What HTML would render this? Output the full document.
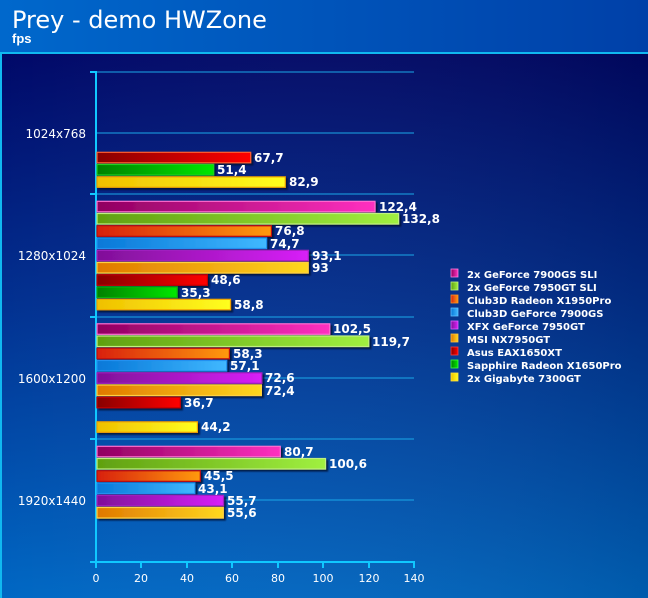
<!DOCTYPE html>
<html><head><meta charset="utf-8"><style>
html,body{margin:0;padding:0;width:648px;height:598px;overflow:hidden;background:#0050b0}
svg{display:block}
text{font-family:"DejaVu Sans","Liberation Sans",sans-serif;fill:#fff}
.v{font-family:"Liberation Sans",sans-serif;font-weight:bold;font-size:12px}
.c{font-size:12px}
.l{font-size:10px;font-weight:bold}
.t{font-size:11px}
</style></head><body>
<svg width="648" height="598" viewBox="0 0 648 598" xmlns="http://www.w3.org/2000/svg">
<defs>
<linearGradient id="hdr" x1="0" x2="1"><stop offset="0" stop-color="#0068cc"/><stop offset="1" stop-color="#0040a8"/></linearGradient>
<linearGradient id="bg" x1="0" y1="0" x2="0" y2="1"><stop offset="0" stop-color="#000868"/><stop offset="0.45" stop-color="#023090"/><stop offset="1" stop-color="#0068c4"/></linearGradient>
<linearGradient id="bg2" x1="0" x2="1"><stop offset="0" stop-color="#fff" stop-opacity="0"/><stop offset="1" stop-color="#000" stop-opacity="0.12"/></linearGradient>
<linearGradient id="pk" x1="0" x2="1"><stop offset="0" stop-color="#900060"/><stop offset="1" stop-color="#ff30c0"/></linearGradient>
<linearGradient id="gl" x1="0" x2="1"><stop offset="0" stop-color="#60a010"/><stop offset="1" stop-color="#a0f040"/></linearGradient>
<linearGradient id="or" x1="0" x2="1"><stop offset="0" stop-color="#d82010"/><stop offset="1" stop-color="#ff9a10"/></linearGradient>
<linearGradient id="bl" x1="0" x2="1"><stop offset="0" stop-color="#0878d8"/><stop offset="1" stop-color="#40b8ff"/></linearGradient>
<linearGradient id="pu" x1="0" x2="1"><stop offset="0" stop-color="#801098"/><stop offset="1" stop-color="#d820f8"/></linearGradient>
<linearGradient id="go" x1="0" x2="1"><stop offset="0" stop-color="#e07800"/><stop offset="1" stop-color="#ffd820"/></linearGradient>
<linearGradient id="rd" x1="0" x2="1"><stop offset="0" stop-color="#880000"/><stop offset="1" stop-color="#ff0000"/></linearGradient>
<linearGradient id="gr" x1="0" x2="1"><stop offset="0" stop-color="#008000"/><stop offset="1" stop-color="#00e800"/></linearGradient>
<linearGradient id="ye" x1="0" x2="1"><stop offset="0" stop-color="#f0c000"/><stop offset="1" stop-color="#ffff20"/></linearGradient>
<filter id="sh" x="-5%" y="-30%" width="115%" height="180%"><feDropShadow dx="2" dy="2" stdDeviation="0.8" flood-color="#000830" flood-opacity="0.8"/></filter>
</defs>
<rect width="648" height="598" fill="url(#hdr)"/>
<rect x="0" y="53" width="648" height="545" fill="url(#bg)"/>
<rect x="0" y="53" width="648" height="545" fill="url(#bg2)"/>
<line x1="0" y1="53" x2="648" y2="53" stroke="#10b8f0" stroke-width="2"/>
<line x1="1" y1="53" x2="1" y2="598" stroke="#10b8f0" stroke-width="2"/>
<text x="12" y="28" style="font-size:24px">Prey - demo HWZone</text>
<text x="12" y="43" style="font-size:13px;font-weight:bold;font-family:'Liberation Sans',sans-serif">fps</text>
<g stroke="#1aa8e8" stroke-width="1">
<line x1="96" y1="72" x2="414" y2="72"/><line x1="96" y1="133" x2="414" y2="133"/>
<line x1="96" y1="194" x2="414" y2="194"/><line x1="96" y1="255" x2="414" y2="255"/>
<line x1="96" y1="317" x2="414" y2="317"/><line x1="96" y1="378" x2="414" y2="378"/>
<line x1="96" y1="439" x2="414" y2="439"/><line x1="96" y1="500" x2="414" y2="500"/>
</g>
<g stroke="#10c8ff" stroke-width="2">
<line x1="96" y1="71" x2="96" y2="563"/>
<line x1="90" y1="562" x2="415" y2="562"/>
<line x1="90" y1="72" x2="96" y2="72"/><line x1="90" y1="194" x2="96" y2="194"/>
<line x1="90" y1="317" x2="96" y2="317"/><line x1="90" y1="439" x2="96" y2="439"/>
<line x1="96" y1="562" x2="96" y2="568"/><line x1="141" y1="562" x2="141" y2="568"/>
<line x1="187" y1="562" x2="187" y2="568"/><line x1="232" y1="562" x2="232" y2="568"/>
<line x1="278" y1="562" x2="278" y2="568"/><line x1="323" y1="562" x2="323" y2="568"/>
<line x1="369" y1="562" x2="369" y2="568"/><line x1="414" y1="562" x2="414" y2="568"/>
</g>
<g class="t" text-anchor="middle">
<text x="96" y="582">0</text><text x="141" y="582">20</text><text x="187" y="582">40</text><text x="232" y="582">60</text>
<text x="278" y="582">80</text><text x="323" y="582">100</text><text x="369" y="582">120</text><text x="414" y="582">140</text>
</g>
<g class="c" text-anchor="end">
<text x="86" y="138">1024x768</text><text x="86" y="260">1280x1024</text>
<text x="86" y="383">1600x1200</text><text x="86" y="505">1920x1440</text>
</g>
<g stroke-width="1.2" filter="url(#sh)">
<rect x="97" y="152.3" width="153.7" height="10.5" fill="url(#rd)" stroke="#ff6030"/>
<rect x="97" y="164.5" width="116.7" height="10.5" fill="url(#gr)" stroke="#20d020"/>
<rect x="97" y="176.8" width="188.3" height="10.5" fill="url(#ye)" stroke="#e8a000"/>
<rect x="97" y="201.3" width="278" height="10.5" fill="url(#pk)" stroke="#ff70d0"/>
<rect x="97" y="213.5" width="301.6" height="10.5" fill="url(#gl)" stroke="#c0f080"/>
<rect x="97" y="225.8" width="174.4" height="10.5" fill="url(#or)" stroke="#c01010"/>
<rect x="97" y="238" width="169.6" height="10.5" fill="url(#bl)" stroke="#2090f0"/>
<rect x="97" y="250.3" width="211.4" height="10.5" fill="url(#pu)" stroke="#a020c0"/>
<rect x="97" y="262.5" width="211.2" height="10.5" fill="url(#go)" stroke="#ffd040"/>
<rect x="97" y="274.8" width="110.4" height="10.5" fill="url(#rd)" stroke="#c00000"/>
<rect x="97" y="287" width="80.2" height="10.5" fill="url(#gr)" stroke="#10b010"/>
<rect x="97" y="299.3" width="133.5" height="10.5" fill="url(#ye)" stroke="#f0a000"/>
<rect x="97" y="323.8" width="232.8" height="10.5" fill="url(#pk)" stroke="#ff70d0"/>
<rect x="97" y="336" width="271.8" height="10.5" fill="url(#gl)" stroke="#c0f080"/>
<rect x="97" y="348.3" width="132.4" height="10.5" fill="url(#or)" stroke="#c01010"/>
<rect x="97" y="360.5" width="129.7" height="10.5" fill="url(#bl)" stroke="#2090f0"/>
<rect x="97" y="372.8" width="164.9" height="10.5" fill="url(#pu)" stroke="#a020c0"/>
<rect x="97" y="385" width="164.4" height="10.5" fill="url(#go)" stroke="#ffd040"/>
<rect x="97" y="397.3" width="83.3" height="10.5" fill="url(#rd)" stroke="#c00000"/>
<rect x="97" y="421.8" width="100.4" height="10.5" fill="url(#ye)" stroke="#f0a000"/>
<rect x="97" y="446.3" width="183.3" height="10.5" fill="url(#pk)" stroke="#ff70d0"/>
<rect x="97" y="458.5" width="228.5" height="10.5" fill="url(#gl)" stroke="#c0f080"/>
<rect x="97" y="470.8" width="103.3" height="10.5" fill="url(#or)" stroke="#c01010"/>
<rect x="97" y="483" width="97.9" height="10.5" fill="url(#bl)" stroke="#2090f0"/>
<rect x="97" y="495.3" width="126.5" height="10.5" fill="url(#pu)" stroke="#a020c0"/>
<rect x="97" y="507.5" width="126.3" height="10.5" fill="url(#go)" stroke="#ffd040"/>
</g>
<g class="v">
<text x="254" y="162">67,7</text><text x="217" y="174">51,4</text><text x="289" y="186">82,9</text>
<text x="379" y="211">122,4</text><text x="402" y="223">132,8</text><text x="275" y="235">76,8</text>
<text x="270" y="248">74,7</text><text x="312" y="260">93,1</text><text x="312" y="272">93</text>
<text x="211" y="284">48,6</text><text x="181" y="297">35,3</text><text x="234" y="309">58,8</text>
<text x="333" y="333">102,5</text><text x="372" y="346">119,7</text><text x="233" y="358">58,3</text>
<text x="230" y="370">57,1</text><text x="265" y="382">72,6</text><text x="265" y="395">72,4</text>
<text x="184" y="407">36,7</text><text x="201" y="431">44,2</text>
<text x="284" y="456">80,7</text><text x="329" y="468">100,6</text><text x="204" y="480">45,5</text>
<text x="198" y="493">43,1</text><text x="227" y="505">55,7</text><text x="227" y="517">55,6</text>
</g>
<g>
<rect x="451" y="269" width="7" height="8" fill="url(#pk)" stroke="#ff80e0" stroke-width="0.8"/>
<rect x="451" y="282" width="7" height="8" fill="url(#gl)" stroke="#c0f080" stroke-width="0.8"/>
<rect x="451" y="295" width="7" height="8" fill="url(#or)" stroke="#ff9020" stroke-width="0.8"/>
<rect x="451" y="308" width="7" height="8" fill="url(#bl)" stroke="#60c0ff" stroke-width="0.8"/>
<rect x="451" y="321" width="7" height="8" fill="url(#pu)" stroke="#e060ff" stroke-width="0.8"/>
<rect x="451" y="334" width="7" height="8" fill="url(#go)" stroke="#ffc040" stroke-width="0.8"/>
<rect x="451" y="347" width="7" height="8" fill="url(#rd)" stroke="#ff4040" stroke-width="0.8"/>
<rect x="451" y="360" width="7" height="8" fill="url(#gr)" stroke="#40ff40" stroke-width="0.8"/>
<rect x="451" y="373" width="7" height="8" fill="url(#ye)" stroke="#ffe040" stroke-width="0.8"/>
</g>
<g class="l">
<text x="467" y="278">2x GeForce 7900GS SLI</text>
<text x="467" y="291">2x GeForce 7950GT SLI</text>
<text x="467" y="304">Club3D Radeon X1950Pro</text>
<text x="467" y="317">Club3D GeForce 7900GS</text>
<text x="467" y="330">XFX GeForce 7950GT</text>
<text x="467" y="343">MSI NX7950GT</text>
<text x="467" y="356">Asus EAX1650XT</text>
<text x="467" y="369">Sapphire Radeon X1650Pro</text>
<text x="467" y="382">2x Gigabyte 7300GT</text>
</g>
</svg>
</body></html>
